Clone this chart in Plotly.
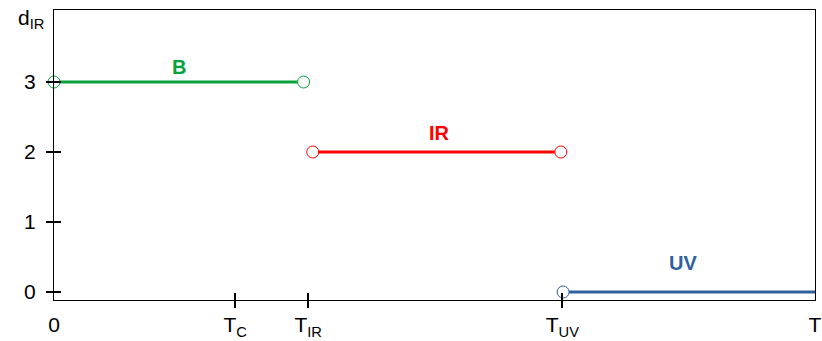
import plotly.graph_objects as go

# positions of the symbolic temperatures on a normalised axis (0..T=1)
x_tick_vals = [0.0, 0.238, 0.334, 0.668, 1.0]
x_tick_text = ["0", "T<sub>C</sub>", "T<sub>IR</sub>", "T<sub>UV</sub>", "T"]
x_mark_vals = [0.238, 0.334, 0.668]
y_tick_vals = [0, 1, 2, 3]

# segments
b_x = [0.0, 0.328]
b_y = [3, 3]
ir_x = [0.340, 0.666]
ir_y = [2, 2]
uv_x = [0.669, 1.0]
uv_y = [0, 0]

labels = ["B", "IR", "UV"]
label_x = [0.164, 0.506, 0.827]
label_y = [3.22, 2.27, 0.41]

GREEN = "#06a33a"
RED = "#ff0000"
BLUE = "#2f60a0"
FONT = "Liberation Sans, Arial, sans-serif"

fig = go.Figure()

def seg(xs, ys, color, markers):
    fig.add_trace(go.Scatter(x=xs, y=ys, mode="lines", line=dict(color=color, width=3),
                             showlegend=False, hoverinfo="skip"))
    mx = [xs[i] for i in markers]
    my = [ys[i] for i in markers]
    fig.add_trace(go.Scatter(x=mx, y=my, mode="markers", cliponaxis=False,
                             marker=dict(symbol="circle", size=12, color="white",
                                         line=dict(color=color, width=1)),
                             showlegend=False, hoverinfo="skip"))

seg(b_x, b_y, GREEN, [0, 1])
seg(ir_x, ir_y, RED, [0, 1])
seg(uv_x, uv_y, BLUE, [0])

for t, x, y, c in zip(labels, label_x, label_y, [GREEN, RED, BLUE]):
    fig.add_annotation(x=x, y=y, text="<b>%s</b>" % t, showarrow=False,
                       font=dict(family=FONT, size=20, color=c))

fig.add_annotation(xref="paper", yref="paper", x=-0.010, y=1.0, xanchor="right", yanchor="top",
                   text="d<sub>IR</sub>", showarrow=False, yshift=6,
                   font=dict(family=FONT, size=21, color="black"))

yr = [-8 / 70, 3 + 72 / 70]
common_x = dict(range=[0, 1], showgrid=False, zeroline=False, fixedrange=True,
                automargin=False)
fig.update_layout(
    width=822, height=341,
    margin=dict(l=54, r=7, t=10, b=41),
    plot_bgcolor="white", paper_bgcolor="white",
    font=dict(family=FONT, size=21, color="black"),
    xaxis=dict(**common_x, tickvals=x_tick_vals, ticktext=x_tick_text, ticks="",
               showline=True, linecolor="black", linewidth=1, mirror=True,
               ticklabelstandoff=6),
    xaxis2=dict(**common_x, overlaying="x", tickvals=x_mark_vals, ticks="outside",
                ticklen=7, tickwidth=2, tickcolor="black", showticklabels=False,
                showline=False, side="bottom"),
    xaxis3=dict(**common_x, overlaying="x", tickvals=x_mark_vals, ticks="inside",
                ticklen=7, tickwidth=2, tickcolor="black", showticklabels=False,
                showline=False, side="bottom"),
    yaxis=dict(range=yr, tickvals=y_tick_vals, ticks="outside", ticklen=7, tickwidth=2,
               tickcolor="black", showgrid=False, zeroline=False, showline=True,
               linecolor="black", linewidth=1, mirror=True, ticklabelstandoff=6,
               automargin=False),
    yaxis2=dict(range=yr, overlaying="y", tickvals=y_tick_vals, ticks="inside", ticklen=7,
                tickwidth=2, tickcolor="black", showticklabels=False, showgrid=False,
                zeroline=False, showline=False, automargin=False),
)
fig.add_trace(go.Scatter(x=[None], y=[None], xaxis="x2", yaxis="y2", showlegend=False))
fig.add_trace(go.Scatter(x=[None], y=[None], xaxis="x3", yaxis="y2", showlegend=False))

fig.write_html("out.html")
